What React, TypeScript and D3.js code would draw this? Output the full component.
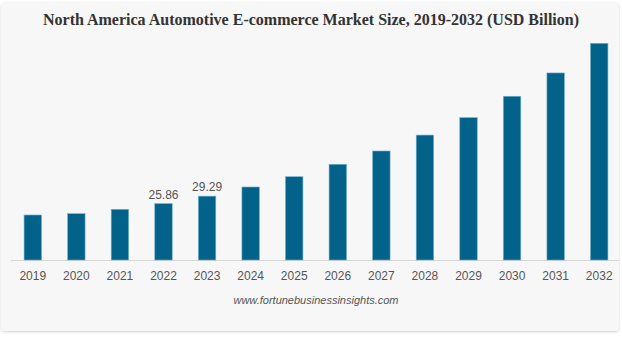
import React from "react";
import * as d3 from "d3";

const years = ["2019","2020","2021","2022","2023","2024","2025","2026","2027","2028","2029","2030","2031","2032"];
const values = [20.64, 21.24, 23.26, 25.86, 29.29, 33.49, 38.2, 43.9, 50.0, 57.3, 65.3, 75.1, 85.8, 99.4];
const labeledYears = ["2022", "2023"];
const title = "North America Automotive E-commerce Market Size, 2019-2032 (USD Billion)";
const source = "www.fortunebusinessinsights.com";

const W = 622, H = 337;
const baseY = 260;

export default function App() {
  const x = d3.scaleBand<string>().domain(years).range([11, 621]).paddingInner(0.6).paddingOuter(0.3);
  const y = d3.scaleLinear().domain([0, 100]).range([baseY, baseY - 218]);
  return (
    <svg width={W} height={H} style={{ position: "absolute", left: 0, top: 0 }}>
      <defs>
        <filter id="sh" x="-5%" y="-5%" width="110%" height="110%">
          <feDropShadow dx="0" dy="1" stdDeviation="1.2" floodColor="#000" floodOpacity="0.18" />
        </filter>
      </defs>
      <rect x={0} y={0} width={W} height={H} fill="#ffffff" />
      <rect x={1} y={2} width={618} height={329} rx={4} fill="#f7f7f7" filter="url(#sh)" />
      <text x={311} y={25} textAnchor="middle" fontFamily="Liberation Serif, Times New Roman, serif" fontWeight="bold" fontSize={16} fill="#333">{title}</text>
      <line x1={11} x2={619} y1={baseY + 0.5} y2={baseY + 0.5} stroke="#d6d6d6" strokeWidth={1} />
      {years.map((yr, i) => (
        <rect key={yr} x={x(yr)} y={y(values[i])} width={x.bandwidth()} height={baseY - y(values[i])}
          fill="#03628a" stroke="#6fb0cc" strokeWidth={0.6} />
      ))}
      {years.map((yr, i) => labeledYears.includes(yr) ? (
        <text key={"l" + yr} x={(x(yr) as number) + x.bandwidth() / 2} y={y(values[i]) - 5} textAnchor="middle"
          fontFamily="Liberation Sans, Arial, sans-serif" fontSize={12} fill="#555">{values[i].toFixed(2)}</text>
      ) : null)}
      {years.map((yr) => (
        <text key={"t" + yr} x={(x(yr) as number) + x.bandwidth() / 2} y={280} textAnchor="middle"
          fontFamily="Liberation Sans, Arial, sans-serif" fontSize={12} fill="#555">{yr}</text>
      ))}
      <text x={316} y={304} textAnchor="middle" fontFamily="Liberation Sans, Arial, sans-serif" fontStyle="italic" fontSize={11} fill="#555">{source}</text>
    </svg>
  );
}
